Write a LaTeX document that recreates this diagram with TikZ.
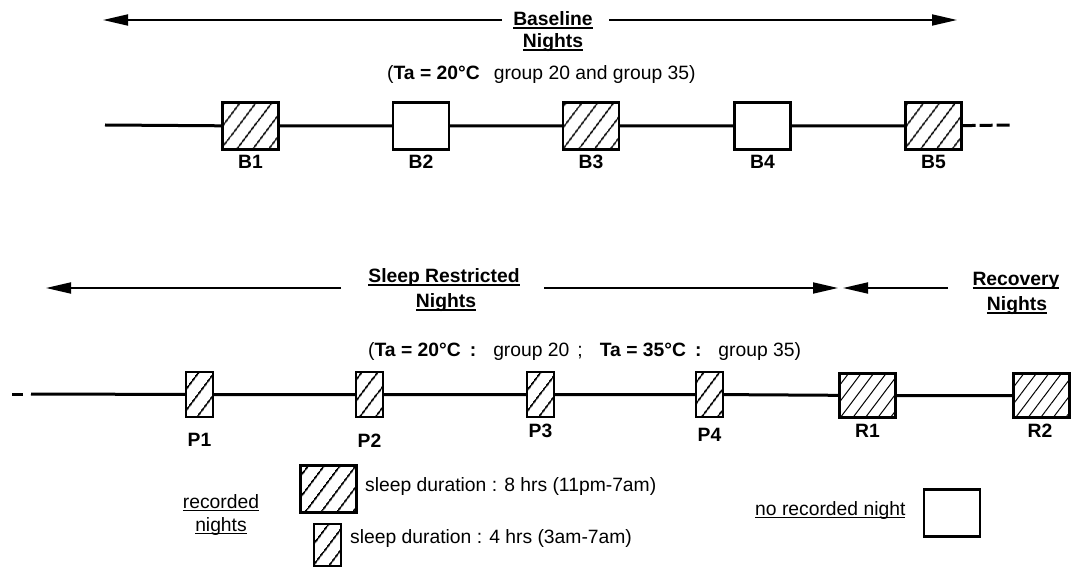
\documentclass[tikz,border=0pt]{standalone}
\usepackage{fontspec}
\setmainfont{Liberation Sans}
\usetikzlibrary{arrows.meta,patterns.meta}
\newcommand\myul[1]{\setbox0=\hbox{#1}\rlap{\rule[-3.2pt]{\wd0}{1.7pt}}\box0}
\tikzset{
 every node/.style={font=\fontsize{19.3}{23}\selectfont},
 tline/.style={line width=3pt},
 arr/.style={line width=1.8pt,-{Triangle[length=25pt,width=11pt]}},
 nightbox/.style={draw,line width=2.3pt,inner sep=0pt,minimum width=56pt,minimum height=47pt},
 shortbox/.style={nightbox,minimum width=27pt,minimum height=45pt},
 hatch/.style={pattern={Lines[angle=53,distance=13pt,line width=1.8pt]}},
 finehatch/.style={pattern={Lines[angle=53,distance=10pt,line width=1pt]}},
 lbl/.style={font=\fontsize{19.3}{23}\selectfont\bfseries, anchor=base, inner sep=0pt},
 txt/.style={anchor=base west, inner sep=0pt},
 ctxt/.style={anchor=base, inner sep=0pt},
}
\begin{document}
\begin{tikzpicture}[x=1pt,y=1pt]
\useasboundingbox (0,0) rectangle (1071,-569);
% ---------- Baseline section ----------
\coordinate (a1l) at (103,-20);
\coordinate (a1r) at (502,-20);
\coordinate (a2l) at (609,-20);
\coordinate (a2r) at (957,-20);
\draw[arr] (a1r) -- (a1l);
\draw[arr] (a2l) -- (a2r);
\node[ctxt] (tBase) at (553,-26) {\bfseries\myul{Baseline}};
\node[ctxt] (tBaseN) at (553,-48) {\bfseries\myul{Nights}};
\node[txt] (cond1) at (387,-80) {(\textbf{Ta = 20°C}\hspace{14pt}group 20 and group 35)};

\node[nightbox,hatch] (B1) at (250.5,-126) {};
\node[nightbox] (B2) at (421,-126) {};
\node[nightbox,hatch] (B3) at (591,-126) {};
\node[nightbox] (B4) at (762.5,-126) {};
\node[nightbox,hatch] (B5) at (933.5,-126) {};
\coordinate (bstart) at (105,-125);
\coordinate (bend) at (1011,-125);
\draw[tline] (bstart) -- (B1) -- (B2) -- (B3) -- (B4) -- (B5);
\draw[tline,dash pattern=on 13pt off 4pt] (B5) -- (bend);
\node[lbl] (lB1) at (250.5,-169) {B1};
\node[lbl] (lB2) at (421,-169) {B2};
\node[lbl] (lB3) at (591,-169) {B3};
\node[lbl] (lB4) at (762.5,-169) {B4};
\node[lbl] (lB5) at (933.5,-169) {B5};

% ---------- Sleep restricted / recovery section ----------
\coordinate (a3l) at (46,-288);
\coordinate (a3r) at (341,-288);
\coordinate (a4l) at (544,-288);
\coordinate (a4r) at (838,-288);
\coordinate (a5l) at (843,-288);
\coordinate (a5r) at (948,-288);
\draw[arr] (a3r) -- (a3l);
\draw[arr] (a4l) -- (a4r);
\draw[arr] (a5r) -- (a5l);
\node[ctxt] (tSR) at (444,-283) {\bfseries\myul{Sleep Restricted}};
\node[ctxt] (tSRN) at (446,-308) {\bfseries\myul{Nights}};
\node[ctxt] (tRec) at (1016,-286) {\bfseries\myul{Recovery}};
\node[ctxt] (tRecN) at (1017,-311) {\bfseries\myul{Nights}};
\node[txt] (cond2) at (368,-356) {(\textbf{Ta = 20°C\hspace{9pt}:}\hspace{17pt}group 20\hspace{8pt};\hspace{17pt}\textbf{Ta = 35°C\hspace{9pt}:}\hspace{17pt}group 35)};

\node[shortbox,hatch] (P1) at (199.5,-394.5) {};
\node[shortbox,hatch] (P2) at (369.5,-394.5) {};
\node[shortbox,hatch] (P3) at (540.5,-394.5) {};
\node[shortbox,hatch] (P4) at (709.5,-394.5) {};
\node[nightbox,finehatch,minimum height=44pt] (R1) at (867.5,-395.5) {};
\node[nightbox,finehatch,minimum height=44pt] (R2) at (1041.5,-395.5) {};
\coordinate (pd1) at (12,-394);
\coordinate (pd2) at (23,-394);
\coordinate (pstart) at (31,-394);
\draw[tline] (pd1) -- (pd2);
\draw[tline] (pstart) -- (P1) -- (P2) -- (P3) -- (P4) -- (R1) -- (R2);
\node[lbl] (lP1) at (199.5,-446) {P1};
\node[lbl] (lP2) at (369.5,-447) {P2};
\node[lbl] (lP3) at (540.5,-437) {P3};
\node[lbl] (lP4) at (709.5,-441) {P4};
\node[lbl] (lR1) at (867.5,-437) {R1};
\node[lbl] (lR2) at (1040,-437) {R2};

% ---------- Legend ----------
\node[ctxt] (lrec) at (221,-508) {\myul{recorded}};
\node[ctxt] (lnig) at (221,-531) {\myul{nights}};
\node[nightbox,hatch] (Lbig) at (328.5,-489) {};
\node[shortbox,hatch,minimum height=42pt] (Lsmall) at (327.5,-545) {};
\node[txt] (t8h) at (365,-491) {sleep duration : 8 hrs (11pm-7am)};
\node[txt] (t4h) at (350,-543) {sleep duration : 4 hrs (3am-7am)};
\node[txt] (tnorec) at (755,-515) {\myul{no recorded night}};
\node[nightbox] (Lno) at (952,-513) {};
\end{tikzpicture}
\end{document}
